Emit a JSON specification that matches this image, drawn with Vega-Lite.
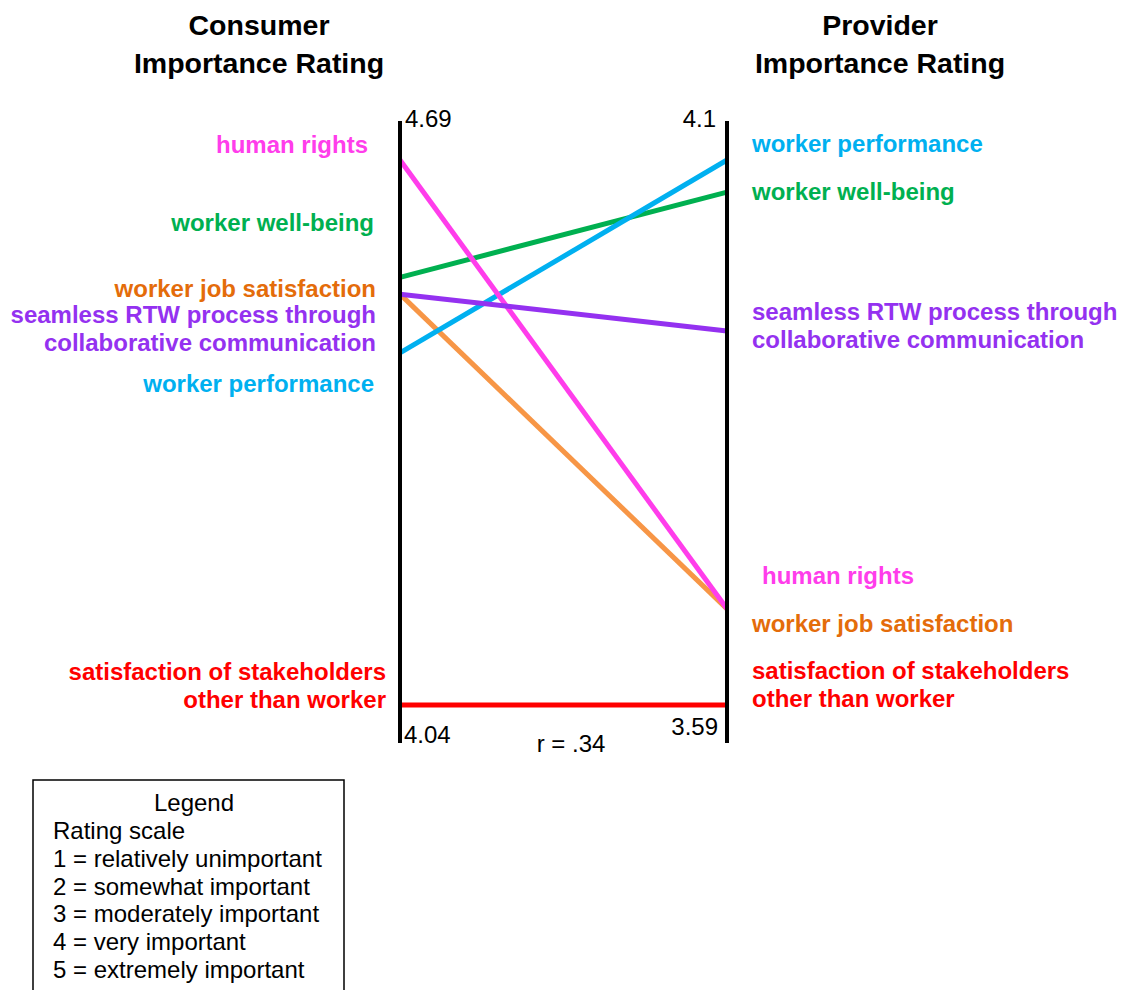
{
  "$schema": "https://vega.github.io/schema/vega-lite/v6.json",
  "padding": 0,
  "background": "white",
  "spacing": 9,
  "config": {
    "view": {"stroke": null},
    "text": {"font": "Liberation Sans", "fontSize": 24, "baseline": "alphabetic", "lineBreak": "\n"}
  },
  "datasets": {
    "ratings": [
      {"item": "satisfaction of stakeholders\nother than worker", "Consumer": 4.04, "Provider": 3.59},
      {"item": "worker job satisfaction", "Consumer": 4.53, "Provider": 3.68},
      {"item": "worker well-being", "Consumer": 4.55, "Provider": 4.07},
      {"item": "worker performance", "Consumer": 4.46, "Provider": 4.10},
      {"item": "human rights", "Consumer": 4.69, "Provider": 3.68},
      {"item": "seamless RTW process through\ncollaborative communication", "Consumer": 4.53, "Provider": 3.94}
    ],
    "sides": [
      {"side": "Consumer", "title": "Consumer\nImportance Rating"},
      {"side": "Provider", "title": "Provider\nImportance Rating"}
    ],
    "stats": [{"label": "r = .34"}],
    "legend": [
      {"kind": "heading", "text": "Legend"},
      {"kind": "item", "text": "Rating scale"},
      {"kind": "item", "text": "1 = relatively unimportant"},
      {"kind": "item", "text": "2 = somewhat important"},
      {"kind": "item", "text": "3 = moderately important"},
      {"kind": "item", "text": "4 = very important"},
      {"kind": "item", "text": "5 = extremely important"}
    ]
  },
  "vconcat": [
    {
      "width": 1121,
      "height": 770,
      "layer": [
        {
          "data": {"name": "ratings"},
          "transform": [
            {"fold": ["Consumer", "Provider"], "as": ["side", "rating"]},
            {"joinaggregate": [{"op": "min", "field": "rating", "as": "lo"}, {"op": "max", "field": "rating", "as": "hi"}], "groupby": ["side"]},
            {"calculate": "(datum.rating - datum.lo) / (datum.hi - datum.lo)", "as": "norm"}
          ],
          "encoding": {
            "x": {"field": "side", "type": "nominal", "scale": {"type": "point", "domain": ["Consumer", "Provider"], "range": [400, 727], "padding": 0}, "axis": null},
            "y": {"field": "norm", "type": "quantitative", "scale": {"domain": [0, 1], "range": [705, 160], "nice": false, "zero": false}, "axis": null}
          },
          "layer": [
            {
              "mark": {"type": "line", "strokeWidth": 5},
              "encoding": {
                "stroke": {"field": "item", "type": "nominal", "legend": null,
                  "scale": {"domain": ["satisfaction of stakeholders\nother than worker", "worker job satisfaction", "worker well-being", "worker performance", "human rights", "seamless RTW process through\ncollaborative communication"],
                            "range": ["#FF0000", "#F79646", "#00B050", "#00B0F0", "#FF3DEB", "#9431F0"]}}
              }
            },
            {
              "encoding": {
                "text": {"field": "item", "type": "nominal"},
                "fill": {"field": "item", "type": "nominal", "legend": null,
                  "scale": {"domain": ["satisfaction of stakeholders\nother than worker", "worker job satisfaction", "worker well-being", "worker performance", "human rights", "seamless RTW process through\ncollaborative communication"],
                            "range": ["#FF0000", "#E46C0A", "#00B050", "#00B0F0", "#FF3DEB", "#9431F0"]}}
              },
              "layer": [
                {"transform": [{"filter": {"and": [{"field": "side", "equal": "Consumer"}, {"field": "item", "equal": "human rights"}]}}],
                 "mark": {"type": "text", "align": "right", "fontWeight": "bold", "dx": -32, "dy": -7, "lineHeight": 28}},
                {"transform": [{"filter": {"and": [{"field": "side", "equal": "Consumer"}, {"field": "item", "equal": "worker well-being"}]}}],
                 "mark": {"type": "text", "align": "right", "fontWeight": "bold", "dx": -26, "dy": -46, "lineHeight": 28}},
                {"transform": [{"filter": {"and": [{"field": "side", "equal": "Consumer"}, {"field": "item", "equal": "worker job satisfaction"}]}}],
                 "mark": {"type": "text", "align": "right", "fontWeight": "bold", "dx": -24, "dy": 3, "lineHeight": 28}},
                {"transform": [{"filter": {"and": [{"field": "side", "equal": "Consumer"}, {"field": "item", "equal": "seamless RTW process through\ncollaborative communication"}]}}],
                 "mark": {"type": "text", "align": "right", "fontWeight": "bold", "dx": -24, "dy": 29, "lineHeight": 28}},
                {"transform": [{"filter": {"and": [{"field": "side", "equal": "Consumer"}, {"field": "item", "equal": "worker performance"}]}}],
                 "mark": {"type": "text", "align": "right", "fontWeight": "bold", "dx": -26, "dy": 39, "lineHeight": 28}},
                {"transform": [{"filter": {"and": [{"field": "side", "equal": "Consumer"}, {"field": "item", "equal": "satisfaction of stakeholders\nother than worker"}]}}],
                 "mark": {"type": "text", "align": "right", "fontWeight": "bold", "dx": -14, "dy": -25, "lineHeight": 28}},
                {"transform": [{"filter": {"and": [{"field": "side", "equal": "Provider"}, {"field": "item", "equal": "worker performance"}]}}],
                 "mark": {"type": "text", "align": "left", "fontWeight": "bold", "dx": 25, "dy": -8, "lineHeight": 28}},
                {"transform": [{"filter": {"and": [{"field": "side", "equal": "Provider"}, {"field": "item", "equal": "worker well-being"}]}}],
                 "mark": {"type": "text", "align": "left", "fontWeight": "bold", "dx": 25, "dy": 8, "lineHeight": 28}},
                {"transform": [{"filter": {"and": [{"field": "side", "equal": "Provider"}, {"field": "item", "equal": "seamless RTW process through\ncollaborative communication"}]}}],
                 "mark": {"type": "text", "align": "left", "fontWeight": "bold", "dx": 25, "dy": -11, "lineHeight": 28}},
                {"transform": [{"filter": {"and": [{"field": "side", "equal": "Provider"}, {"field": "item", "equal": "human rights"}]}}],
                 "mark": {"type": "text", "align": "left", "fontWeight": "bold", "dx": 35, "dy": -25, "lineHeight": 28}},
                {"transform": [{"filter": {"and": [{"field": "side", "equal": "Provider"}, {"field": "item", "equal": "worker job satisfaction"}]}}],
                 "mark": {"type": "text", "align": "left", "fontWeight": "bold", "dx": 25, "dy": 23, "lineHeight": 28}},
                {"transform": [{"filter": {"and": [{"field": "side", "equal": "Provider"}, {"field": "item", "equal": "satisfaction of stakeholders\nother than worker"}]}}],
                 "mark": {"type": "text", "align": "left", "fontWeight": "bold", "dx": 25, "dy": -26, "lineHeight": 28}}
              ]
            }
          ]
        },
        {
          "data": {"name": "ratings"},
          "transform": [
            {"fold": ["Consumer", "Provider"], "as": ["side", "rating"]},
            {"aggregate": [{"op": "min", "field": "rating", "as": "lo"}, {"op": "max", "field": "rating", "as": "hi"}], "groupby": ["side"]}
          ],
          "encoding": {
            "x": {"field": "side", "type": "nominal", "scale": {"type": "point", "domain": ["Consumer", "Provider"], "range": [400, 727], "padding": 0}, "axis": null}
          },
          "layer": [
            {
              "mark": {"type": "rule", "strokeWidth": 4, "color": "black"},
              "encoding": {
                "y": {"datum": 1.0716, "type": "quantitative", "scale": {"domain": [0, 1], "range": [705, 160], "nice": false, "zero": false}, "axis": null},
                "y2": {"datum": -0.0697}
              }
            },
            {
              "transform": [{"filter": {"field": "side", "equal": "Consumer"}}],
              "mark": {"type": "text", "align": "left", "dx": 5, "dy": 6, "color": "black"},
              "encoding": {
                "y": {"datum": 1.0716, "type": "quantitative", "axis": null},
                "text": {"field": "hi", "type": "quantitative", "format": "~g"}
              }
            },
            {
              "transform": [{"filter": {"field": "side", "equal": "Provider"}}],
              "mark": {"type": "text", "align": "right", "dx": -11, "dy": 6, "color": "black"},
              "encoding": {
                "y": {"datum": 1.0716, "type": "quantitative", "axis": null},
                "text": {"field": "hi", "type": "quantitative", "format": "~g"}
              }
            },
            {
              "transform": [{"filter": {"field": "side", "equal": "Consumer"}}],
              "mark": {"type": "text", "align": "left", "dx": 4, "dy": 0, "color": "black"},
              "encoding": {
                "y": {"datum": -0.0697, "type": "quantitative", "axis": null},
                "text": {"field": "lo", "type": "quantitative", "format": "~g"}
              }
            },
            {
              "transform": [{"filter": {"field": "side", "equal": "Provider"}}],
              "mark": {"type": "text", "align": "right", "dx": -9, "dy": -8, "color": "black"},
              "encoding": {
                "y": {"datum": -0.0697, "type": "quantitative", "axis": null},
                "text": {"field": "lo", "type": "quantitative", "format": "~g"}
              }
            }
          ]
        },
        {
          "data": {"name": "sides"},
          "encoding": {
            "x": {"field": "side", "type": "nominal", "scale": {"type": "point", "domain": ["Consumer", "Provider"], "range": [400, 727], "padding": 0}, "axis": null},
            "y": {"datum": 1.0716, "type": "quantitative", "axis": null},
            "text": {"field": "title", "type": "nominal"}
          },
          "layer": [
            {
              "transform": [{"filter": {"field": "side", "equal": "Consumer"}}],
              "mark": {"type": "text", "align": "center", "fontWeight": "bold", "fontSize": 28.5, "lineHeight": 37.7, "dx": -141, "dy": -86, "color": "black"}
            },
            {
              "transform": [{"filter": {"field": "side", "equal": "Provider"}}],
              "mark": {"type": "text", "align": "center", "fontWeight": "bold", "fontSize": 28.5, "lineHeight": 37.7, "dx": 153, "dy": -86, "color": "black"}
            }
          ]
        },
        {
          "data": {"name": "stats"},
          "mark": {"type": "text", "align": "center", "dx": 171, "dy": 9, "color": "black"},
          "encoding": {
            "x": {"datum": "Consumer", "type": "nominal", "axis": null},
            "y": {"datum": -0.0697, "type": "quantitative", "axis": null},
            "text": {"field": "label", "type": "nominal"}
          }
        }
      ]
    },
    {
      "spacing": 0,
      "hconcat": [
        {
          "width": 32,
          "height": 10,
          "data": {"values": []},
          "mark": "point"
        },
        {
          "width": 311,
          "height": 230,
          "view": {"stroke": "black", "strokeWidth": 1.5},
          "data": {"name": "legend"},
          "encoding": {
            "x": {"field": "kind", "type": "nominal", "scale": {"type": "point", "domain": ["heading", "item"], "range": [161, 20], "padding": 0}, "axis": null},
            "y": {"field": "text", "type": "nominal", "sort": null,
                  "scale": {"type": "point", "domain": ["Legend", "Rating scale", "1 = relatively unimportant", "2 = somewhat important", "3 = moderately important", "4 = very important", "5 = extremely important"], "range": [31, 198], "padding": 0},
                  "axis": null},
            "text": {"field": "text", "type": "nominal"}
          },
          "layer": [
            {
              "transform": [{"filter": {"field": "kind", "equal": "heading"}}],
              "mark": {"type": "text", "align": "center", "color": "black"}
            },
            {
              "transform": [{"filter": {"field": "kind", "equal": "item"}}],
              "mark": {"type": "text", "align": "left", "color": "black"}
            }
          ]
        }
      ]
    }
  ]
}
